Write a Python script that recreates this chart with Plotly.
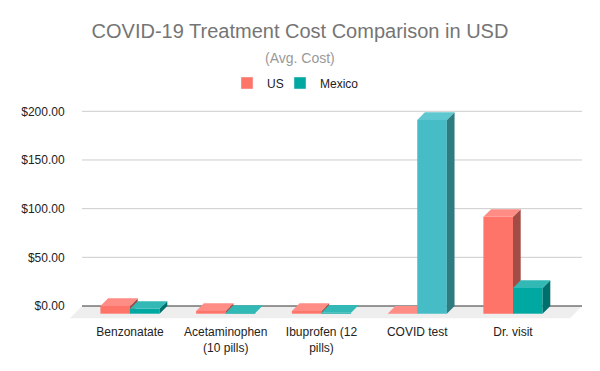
import plotly.graph_objects as go

# ---- data ----
categories = ["Benzonatate", "Acetaminophen<br>(10 pills)", "Ibuprofen (12<br>pills)", "COVID test", "Dr. visit"]
series_names = ["US", "Mexico"]
us_values = [8.0, 2.8, 2.8, 0.0, 99.5]
mexico_values = [5.0, 0.8, 0.9, 199.0, 26.5]
tick_values = [0, 50, 100, 150, 200]
tick_labels = ["$0.00", "$50.00", "$100.00", "$150.00", "$200.00"]

# ---- style ----
FONT = "Liberation Sans, Arial, sans-serif"
# (front, top, side) colours
us_colors = [("#FF7469", "#FF8D86", "#A34C46")] * 5
mx_base = ("#00A8A2", "#33B9B5", "#00706D")
mx_hi = ("#46BDC6", "#5EC7CF", "#2F7B80")
mexico_colors = [mx_base, mx_base, mx_base, mx_hi, mx_base]

W, H = 600, 371
ML, MR, MT, MB = 70, 18, 100, 51
px_per_x = 95.75
px_per_y = 0.9735
zero_px_from_top = 306 - MT  # pixel distance from plot top to $0
plot_w = W - ML - MR
plot_h = H - MT - MB
x0 = -(130 - ML) / px_per_x
x1 = x0 + plot_w / px_per_x
y1 = zero_px_from_top / px_per_y
y0 = y1 - plot_h / px_per_y

bar_w = 29.6 / px_per_x
dx = 7.7 / px_per_x
dy = 7.7 / px_per_y
floor_dx = 12 / px_per_x
floor_dy = 12.3 / px_per_y
back_left = x0 + floor_dx

fig = go.Figure()

# floor
fig.add_shape(type="path",
              path=f"M {back_left} 0 L {x1} 0 L {x1 - floor_dx} {-floor_dy} L {x0} {-floor_dy} Z",
              xref="x", yref="y", fillcolor="#EEEEEE", line=dict(width=0), layer="below")
# gridlines
for tv in tick_values:
    fig.add_shape(type="line", x0=back_left, x1=x1, y0=tv, y1=tv, xref="x", yref="y",
                  line=dict(color="#333333" if tv == 0 else "#CCCCCC", width=1), layer="below")


def face(xs, ys, color):
    fig.add_trace(go.Scatter(x=xs, y=ys, fill="toself", fillcolor=color, mode="lines",
                             line=dict(width=0, color=color), hoverinfo="skip", showlegend=False))


for si, (vals, cols) in enumerate([(us_values, us_colors), (mexico_values, mexico_colors)]):
    for k, v in enumerate(vals):
        left = k - bar_w if si == 0 else k
        right = left + bar_w
        front, top, side = cols[k]
        # front face
        if v > 0:
            face([left, right, right, left, left], [-dy, -dy, v - dy, v - dy, -dy], front)
            # side face
            face([right, right + dx, right + dx, right, right], [-dy, 0, v, v - dy, -dy], side)
        # top face
        face([left, right, right + dx, left + dx, left], [v - dy, v - dy, v, v, v - dy], top)

# legend entries (one legend box per series so spacing can follow the reference)
legend_ids = ["legend", "legend2"]
legend_left_px = [227, 280]
for name, c, lid in zip(series_names, [us_colors[0][0], mx_base[0]], legend_ids):
    fig.add_trace(go.Bar(x=[None], y=[None], name=name, marker=dict(color=c),
                         showlegend=True, legend=lid))

legend_common = dict(orientation="h", xref="container", yref="container", xanchor="left",
                     y=1 - 83 / H, yanchor="middle", font=dict(size=12, color="#222222"),
                     bgcolor="rgba(0,0,0,0)")

fig.update_layout(
    width=W, height=H,
    margin=dict(l=ML, r=MR, t=MT, b=MB, autoexpand=False),
    paper_bgcolor="white", plot_bgcolor="white",
    font=dict(family=FONT, size=12, color="#222222"),
    title=dict(text="COVID-19 Treatment Cost Comparison in USD", x=0.5, xanchor="center",
               y=1 - 31 / H, yanchor="middle", yref="container",
               font=dict(family=FONT, size=20, color="#757575")),
    legend=dict(x=legend_left_px[0] / W, **legend_common),
    legend2=dict(x=legend_left_px[1] / W, **legend_common),
    showlegend=True,
    xaxis=dict(range=[x0, x1], tickmode="array", tickvals=list(range(len(categories))),
               ticktext=categories, showgrid=False, zeroline=False, showline=False,
               ticks="outside", ticklen=1, tickcolor="rgba(0,0,0,0)", fixedrange=True),
    yaxis=dict(range=[y0, y1], tickmode="array", tickvals=tick_values, ticktext=tick_labels,
               showgrid=False, zeroline=False, showline=False,
               ticks="outside", ticklen=2, tickcolor="rgba(0,0,0,0)", fixedrange=True),
    annotations=[dict(text="(Avg. Cost)", xref="paper", yref="paper",
                      x=(300 - ML) / plot_w, y=(H - MB - 58) / plot_h,
                      xanchor="center", yanchor="middle", showarrow=False,
                      font=dict(family=FONT, size=14, color="#999999"))],
)

fig.write_html("out.html", config={"displayModeBar": False},
               post_script="document.body.style.margin='0px';")
